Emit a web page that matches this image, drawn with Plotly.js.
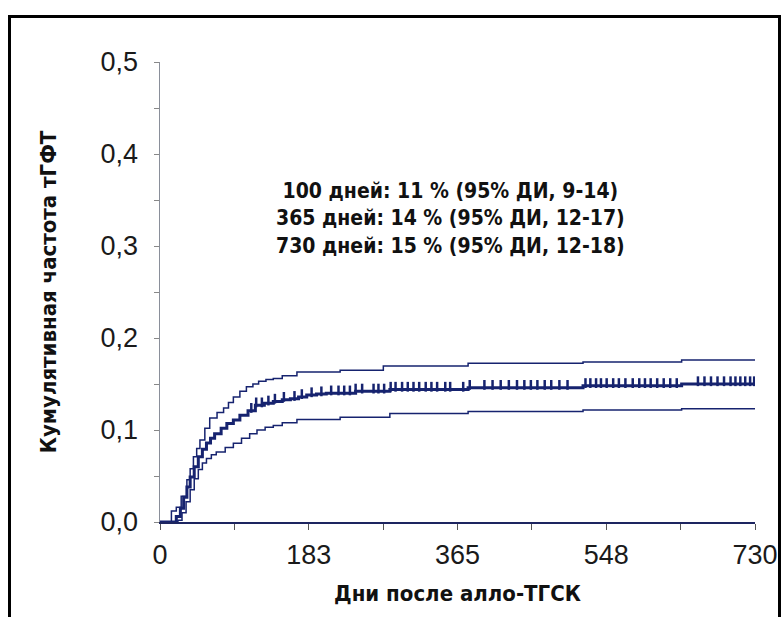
<!DOCTYPE html>
<html><head><meta charset="utf-8">
<script src="https://cdn.plot.ly/plotly-3.0.1.min.js"></script>
<style>
html,body{margin:0;padding:0;background:#fff;}
#wrap{position:relative;width:783px;height:617px;overflow:hidden;}
#chart{width:783px;height:617px;}
#frame{position:absolute;left:8px;top:15px;width:767px;height:640px;border:3px solid #000;pointer-events:none;}
</style></head>
<body><div id="wrap"><div id="chart"></div><div id="frame"></div></div>
<script>
// Cumulative incidence (main estimate)
const mainDays = [0, 14, 20, 25, 29, 33, 37, 42, 47, 52, 57, 62, 67, 75, 82, 90, 98, 108, 117, 128, 139, 150, 160, 170, 180, 192, 204, 240, 282, 378, 519, 640, 730];
const mainVals = [0, 0, 0.006, 0.015, 0.027, 0.038, 0.049, 0.060, 0.071, 0.079, 0.086, 0.091, 0.096, 0.102, 0.107, 0.111, 0.116, 0.121, 0.127, 0.129, 0.131, 0.133, 0.134, 0.136, 0.138, 0.139, 0.140, 0.142, 0.144, 0.146, 0.148, 0.150, 0.150];
// Upper 95% CI
const upperDays = [0, 10, 14, 20, 26, 33, 37, 41, 45, 49, 55, 61, 70, 78, 84, 90, 98, 106, 114, 121, 130, 139, 150, 168, 221, 274, 378, 519, 640, 730];
const upperVals = [0, 0, 0.012, 0.016, 0.028, 0.046, 0.058, 0.071, 0.080, 0.089, 0.102, 0.113, 0.119, 0.124, 0.130, 0.136, 0.142, 0.147, 0.150, 0.153, 0.155, 0.156, 0.159, 0.163, 0.165, 0.1695, 0.1725, 0.174, 0.176, 0.176];
// Lower 95% CI
const lowerDays = [0, 18, 22, 27, 32, 37, 42, 47, 52, 57, 63, 69, 80, 90, 100, 110, 119, 129, 139, 150, 168, 221, 282, 378, 519, 640, 730];
const lowerVals = [0, 0, 0.002, 0.010, 0.022, 0.035, 0.047, 0.057, 0.064, 0.069, 0.073, 0.076, 0.081, 0.0855, 0.091, 0.096, 0.100, 0.103, 0.105, 0.108, 0.1115, 0.1138, 0.118, 0.120, 0.1217, 0.123, 0.123];
// Censoring times
const censorDays = [112, 118, 125, 133, 141, 152, 165, 174, 186, 198, 210, 219, 226, 233, 240, 248, 262, 268, 275, 283, 289, 297, 304, 311, 318, 326, 333, 340, 350, 356, 372, 380, 398, 408, 418, 428, 438, 447, 455, 463, 472, 480, 490, 500, 522, 528, 535, 541, 548, 556, 563, 571, 580, 588, 595, 602, 610, 618, 626, 634, 660, 668, 676, 684, 692, 700, 706, 712, 718, 724, 729];
// Axis ticks
const xTickVals = [0, 91.25, 182.5, 273.75, 365, 456.25, 547.5, 638.75, 730];
const xTickText = ['0', '', '183', '', '365', '', '548', '', '730'];
const yTickVals = [0, 0.05, 0.1, 0.15, 0.2, 0.25, 0.3, 0.35, 0.4, 0.45, 0.5];
const yTickText = ['0,0', '', '0,1', '', '0,2', '', '0,3', '', '0,4', '', '0,5'];
const statLines = ['100 дней: 11 % (95% ДИ, 9-14)', '365 дней: 14 % (95% ДИ, 12-17)', '730 дней: 15 % (95% ДИ, 12-18)'];

const navy = '#16236f';
const cond = '"DejaVu Sans Condensed", "Liberation Sans", Arial, sans-serif';
const sans = '"Liberation Sans", Arial, sans-serif';

function stepAt(xs, ys, t) {
  let v = ys[0];
  for (let i = 0; i < xs.length; i++) { if (xs[i] <= t) v = ys[i]; }
  return v;
}
const censorVals = censorDays.map(d => stepAt(mainDays, mainVals, d) + 0.003);

const traces = [
  {x: upperDays, y: upperVals, mode: 'lines', line: {shape: 'hv', color: navy, width: 1.5}, hoverinfo: 'skip'},
  {x: lowerDays, y: lowerVals, mode: 'lines', line: {shape: 'hv', color: navy, width: 1.5}, hoverinfo: 'skip'},
  {x: mainDays, y: mainVals, mode: 'lines', line: {shape: 'hv', color: navy, width: 3}, hoverinfo: 'skip'},
  {x: censorDays, y: censorVals, mode: 'markers', marker: {symbol: 'line-ns', size: 7, line: {color: navy, width: 2.5}}, hoverinfo: 'skip'}
];

const layout = {
  width: 783, height: 617,
  margin: {l: 160, r: 28, t: 62, b: 95},
  paper_bgcolor: '#fff', plot_bgcolor: '#fff',
  showlegend: false,
  xaxis: {
    range: [0, 730], tickmode: 'array', tickvals: xTickVals, ticktext: xTickText,
    showgrid: false, zeroline: false, showline: true, linecolor: '#1d2560', linewidth: 1.5,
    ticks: 'outside', ticklen: 6, tickcolor: '#555', tickwidth: 1,
    tickfont: {family: sans, size: 27, color: '#1a1a1a'}, ticklabelstandoff: 2,
    title: {text: '<b>Дни после алло-ТГСК</b>', font: {family: cond, size: 22, color: '#111'}, standoff: 16}
  },
  yaxis: {
    range: [0, 0.5], tickmode: 'array', tickvals: yTickVals, ticktext: yTickText,
    showgrid: false, zeroline: false, showline: true, linecolor: '#8a8f9a', linewidth: 1.5,
    ticks: 'outside', ticklen: 5, tickcolor: '#888', tickwidth: 1,
    tickfont: {family: sans, size: 27, color: '#1a1a1a'}, ticklabelstandoff: 10,
    title: {text: '<b>Кумулятивная частота тГФТ</b>', font: {family: cond, size: 22, color: '#111'}, standoff: 38}
  },
  annotations: [{
    xref: 'x', yref: 'y', x: 357, y: 0.330, xanchor: 'center', yanchor: 'middle',
    text: '<b>' + statLines.join('<br>') + '</b>', showarrow: false, align: 'center',
    font: {family: cond, size: 21, color: '#111'}
  }]
};
Plotly.newPlot('chart', traces, layout, {displayModeBar: false, staticPlot: true});
</script></body></html>
